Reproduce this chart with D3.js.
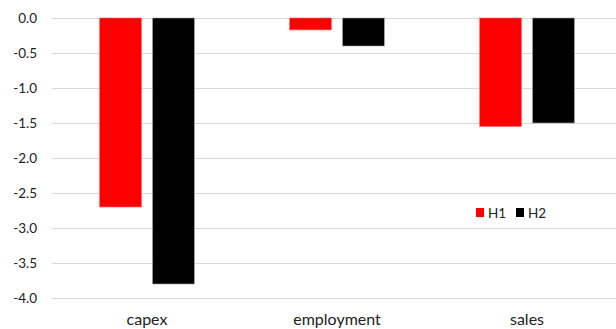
<!DOCTYPE html>
<html><head><meta charset="utf-8">
<script src="https://cdn.jsdelivr.net/npm/d3@7/dist/d3.min.js"></script>
<style>body{margin:0;background:#fff;}svg{display:block;font-family:Lato, "Open Sans", sans-serif;}</style>
</head><body><svg id="c" width="616" height="329"></svg>
<script>
const categories = ["capex", "employment", "sales"];
const seriesNames = ["H1", "H2"];
const h1Values = [-2.7, -0.17, -1.55];
const h2Values = [-3.8, -0.4, -1.5];
const yTicks = [0, -0.5, -1.0, -1.5, -2.0, -2.5, -3.0, -3.5, -4.0];
const colors = ["#ff0000", "#000000"];

(function () {
const svg = d3.select("#c");
const pl = 52, pr = 622, pt = 18, pb = 298;
const x = d3.scaleBand().domain(categories).range([pl, pr]).paddingInner(0).paddingOuter(0);
const xs = d3.scaleBand().domain(seriesNames).range([0, x.bandwidth()]).paddingInner(0.21).paddingOuter(0.9);
const y = d3.scaleLinear().domain([0, -4]).range([pt, pb]);

// grid
svg.append("g").selectAll("line").data(yTicks).join("line")
  .attr("x1", pl).attr("x2", pr)
  .attr("y1", d => Math.round(y(d)) + 0.5).attr("y2", d => Math.round(y(d)) + 0.5)
  .attr("stroke", "#d9d9d9").attr("stroke-width", 1);

// y axis labels
const yAxis = d3.axisLeft(y).tickValues(yTicks).tickSize(0).tickPadding(0)
  .tickFormat(d => d3.format(".1f")(d).replace("\u2212", "-"));
const ya = svg.append("g").attr("transform", "translate(37,0)").call(yAxis);
ya.select(".domain").remove();
ya.selectAll("text").attr("font-size", 13.5).attr("fill", "#222").attr("font-family", "Lato, sans-serif");

// bars
const data = [h1Values, h2Values];
seriesNames.forEach((s, si) => {
  svg.append("g").selectAll("rect").data(categories).join("rect")
    .attr("x", c => x(c) + xs(s))
    .attr("width", xs.bandwidth())
    .attr("y", y(0))
    .attr("height", (c, i) => y(data[si][i]) - y(0))
    .attr("fill", colors[si])
    .attr("stroke", si === 0 ? "#ff6666" : "#a0a0a0")
    .attr("stroke-width", 0.6);
});

// x labels
const xAxis = d3.axisBottom(x).tickSize(0).tickPadding(0);
const xa = svg.append("g").attr("transform", "translate(0,313.5)").call(xAxis);
xa.select(".domain").remove();
xa.selectAll("text").attr("font-size", 16).attr("fill", "#222").attr("font-family", "Lato, sans-serif");

// legend
const lg = svg.append("g").attr("transform", "translate(476,208)");
const lx = [0, 40];
seriesNames.forEach((s, i) => {
  lg.append("rect").attr("x", lx[i]).attr("y", 0).attr("width", 8).attr("height", 9).attr("fill", colors[i]);
  lg.append("text").attr("x", lx[i] + 12).attr("y", 10).attr("font-size", 13.5).attr("fill", "#222").text(s);
});
})();
</script></body></html>
